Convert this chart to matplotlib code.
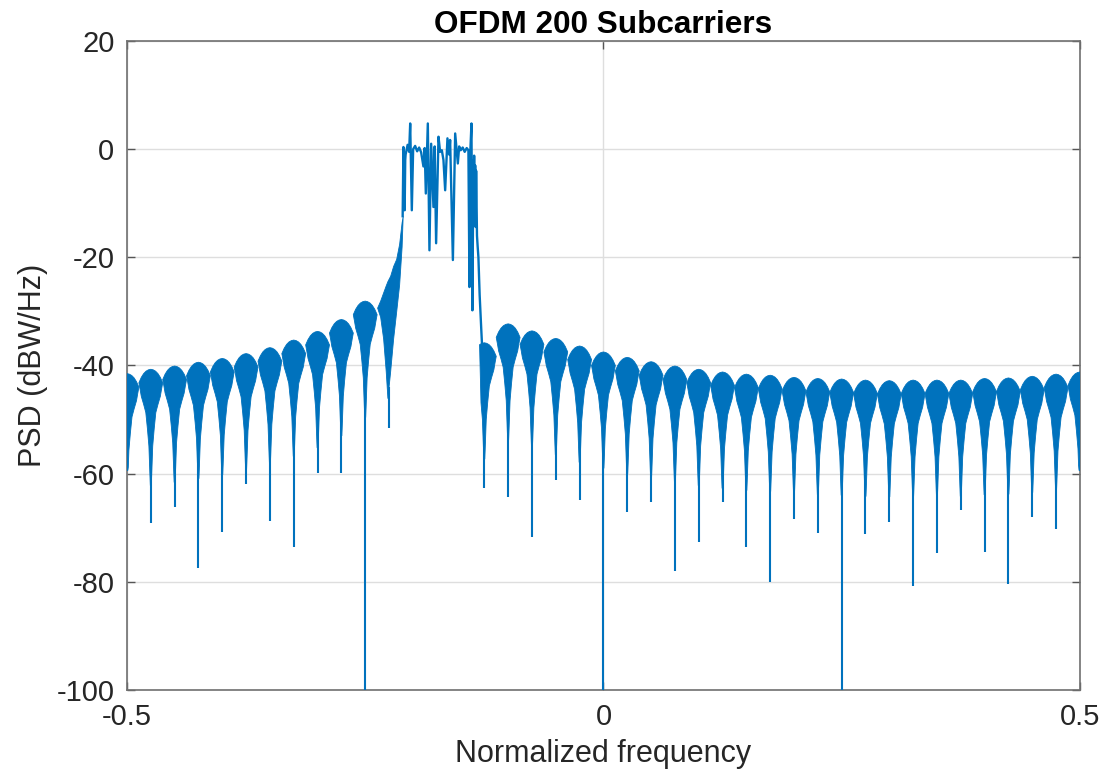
import numpy as np
import matplotlib
matplotlib.use("Agg")
import matplotlib.pyplot as plt
from matplotlib import font_manager

# ---------------------------------------------------------------- data
# Out-of-band lobes: one scalloped lobe every 0.025 cycles/sample
lobe_freq = np.arange(41) * 0.025 - 0.5
lobe_peak_db = np.array([
    -41.5, -40.7, -40.1, -39.4, -38.7, -37.8, -36.7, -35.3, -33.7, -31.5,
    -28.1, np.nan, np.nan, np.nan, np.nan, -35.8, -32.3, -33.6, -35.0, -36.4,
    -37.5, -38.5, -39.3, -40.1, -40.7, -41.2, -41.6, -41.8, -42.2, -42.4,
    -42.5, -42.7, -42.8, -42.7, -42.7, -42.7, -42.4, -42.3, -42.0, -41.6,
    -41.2])
# deepest point under each lobe (-130 = falls through the axis floor)
lobe_null_db = np.array([
    -59.4, -69.2, -66.1, -77.5, -70.7, -61.9, -68.7, -73.5, -59.8, -59.9,
    -130.0, -51.6, np.nan, np.nan, np.nan, -62.7, -64.3, -71.7, -61.1, -64.9,
    -130.0, -67.1, -65.3, -78.0, -72.6, -65.2, -73.5, -80.0, -68.3, -70.9,
    -130.0, -71.2, -68.9, -80.8, -74.7, -66.8, -74.5, -80.4, -68.0, -70.2,
    -59.4])

# lobe outline: cap (relative to lobe peak) and taper (relative to the waist)
cap_pos = np.array([0.0, 0.1, 0.2, 0.3, 0.4, 0.5])
cap_drop_db = np.array([0.0, -0.1, -0.35, -0.8, -1.5, -2.5])
taper_pos = np.array([0.5, 0.45, 0.4, 0.3, 0.21, 0.14, 0.08, 0.055, 0.035, 0.02])
taper_drop_db = np.array([0.0, -1.2, -2.5, -4.0, -5.5, -8.6, -11.7, -14.8, -17.3, -19.0])

# rising skirt on the low side of the occupied band
ramp_freq = np.array([-0.2375, -0.2343, -0.2312, -0.2285, -0.2267, -0.2238,
                      -0.2207, -0.2175, -0.2144, -0.2118, -0.2107])
ramp_upper_db = np.array([-29.3, -28.0, -26.5, -25.2, -24.4, -23.4,
                          -21.6, -20.3, -17.5, -13.5, -12.4])
ramp_lower_db = np.array([-29.3, -31.0, -35.0, -41.0, -46.0, -41.0,
                          -35.0, -30.0, -25.0, -18.0, -12.4])

# occupied band (200 subcarriers)
band_freq = np.array([
    -0.2107, -0.2099, -0.2093, -0.2086, -0.2080, -0.2076, -0.2055, -0.2039,
    -0.2028, -0.2011, -0.1997, -0.1976, -0.1955, -0.1934, -0.1913, -0.1889,
    -0.1876, -0.1864, -0.1843, -0.1826, -0.1808, -0.1784, -0.1771, -0.1756,
    -0.1731, -0.1714, -0.1696, -0.1679, -0.1661, -0.1637, -0.1619, -0.1609,
    -0.1580, -0.1556, -0.1528, -0.1514, -0.1498, -0.1477, -0.1456, -0.1435,
    -0.1417, -0.1406, -0.1396, -0.1385, -0.1375, -0.1365, -0.1361, -0.1357,
    -0.1352, -0.1346, -0.1341, -0.1336, -0.1327, -0.1320, -0.1312, -0.1299,
    -0.1283, -0.1268, -0.1252])
band_db = np.array([
    -12.4, 0.4, -10.0, -11.3, -2.0, -1.0, 0.8, -0.5,
    4.75, -11.3, 0.0, 0.6, -0.4, 0.3, -0.6, -3.2,
    0.2, -8.2, 4.75, -18.7, 1.0, -10.7, 0.5, -17.4,
    2.3, -0.5, -0.2, -2.0, -7.6, 2.0, -1.0, 1.7,
    -20.5, 2.9, -2.65, 0.5, -0.2, 0.3, -0.5, 0.2,
    -0.2, -25.5, 0.0, 4.75, -29.8, -2.0, -12.0, -1.2,
    -13.0, -3.0, -14.4, -4.0, -16.0, -18.0, -20.0, -27.0,
    -33.0, -38.4, -45.0])

x_ticks = [-0.5, 0, 0.5]
x_tick_labels = ["-0.5", "0", "0.5"]
y_ticks = [-100, -80, -60, -40, -20, 0, 20]

# ---------------------------------------------------------------- style
installed = {f.name for f in font_manager.fontManager.ttflist}
family = "Liberation Sans" if "Liberation Sans" in installed else "DejaVu Sans"
plt.rcParams["font.family"] = [family, "DejaVu Sans"]
plt.rcParams["axes.unicode_minus"] = False

BLUE = "#0072BD"
TXT = "#262626"

fig = plt.figure(figsize=(11.11, 7.76), dpi=100)
ax = fig.add_axes([0.1143, 0.1108, 0.8577, 0.8364])

spacing = 0.025
half_right_only = {15}

for k, f0 in enumerate(lobe_freq):
    peak = lobe_peak_db[k]
    if np.isnan(peak):
        continue
    waist = peak + cap_drop_db[-1]
    null = lobe_null_db[k]
    # upper cap, left to right
    up_d = np.concatenate([-cap_pos[::-1], cap_pos[1:]])
    up_y = peak + np.concatenate([cap_drop_db[::-1], cap_drop_db[1:]])
    # tapering underside, right to left
    lo_d = np.concatenate([taper_pos, -taper_pos[::-1]])
    lo_y = waist + np.concatenate([taper_drop_db, taper_drop_db[::-1]])
    lo_y = np.maximum(lo_y, null)
    if k in half_right_only:
        keep_u = up_d >= -0.2
        keep_l = lo_d >= -0.2
        up_d, up_y = up_d[keep_u], up_y[keep_u]
        lo_d, lo_y = lo_d[keep_l], lo_y[keep_l]
    xs = f0 + spacing * np.concatenate([up_d, lo_d])
    ys = np.concatenate([up_y, lo_y])
    ax.fill(xs, ys, color=BLUE, lw=0.6, ec=BLUE, zorder=3)
    ax.plot([f0, f0], [waist - 12, null], color=BLUE, lw=1.5,
            solid_capstyle="butt", zorder=3)

# skirt below the band edge
ax.fill_between(ramp_freq, ramp_lower_db, ramp_upper_db, color=BLUE,
                lw=0.6, ec=BLUE, zorder=3)
ax.plot([lobe_freq[11]] * 2, [-44, lobe_null_db[11]], color=BLUE, lw=1.5,
        solid_capstyle="butt", zorder=3)

# in-band ripple
ax.plot(band_freq, band_db, color=BLUE, lw=1.7, zorder=3)

# ---------------------------------------------------------------- axes
ax.set_xlim(-0.5, 0.5)
ax.set_ylim(-100, 20)
ax.set_xticks(x_ticks)
ax.set_xticklabels(x_tick_labels)
ax.set_yticks(y_ticks)
ax.grid(True, color="#dedede", lw=1.0, zorder=0)
ax.set_axisbelow(True)
for s in ax.spines.values():
    s.set_color("#707070")
    s.set_linewidth(1.2)
ax.tick_params(direction="in", length=6, width=1, color="#555555",
               top=True, right=True, labelsize=21, labelcolor=TXT, pad=9)

ax.set_title("OFDM 200 Subcarriers", fontsize=22.7, fontweight="bold",
             color="black", pad=6)
ax.set_xlabel("Normalized frequency", fontsize=22, color=TXT, labelpad=6)
ax.set_ylabel("PSD (dBW/Hz)", fontsize=22, color=TXT, labelpad=6)

fig.savefig("out.png", dpi=100, facecolor="white")
